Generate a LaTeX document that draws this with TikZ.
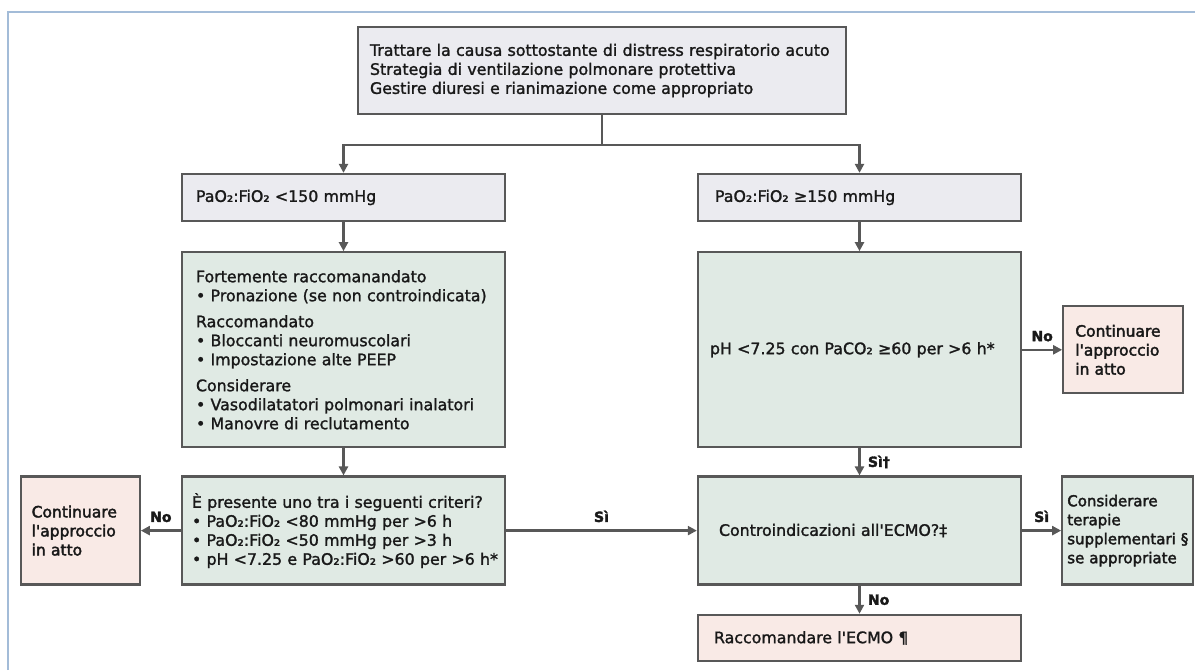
\documentclass[tikz,border=0pt]{standalone}
\usepackage{fontspec}
\setmainfont{DejaVu Sans}[Ligatures=TeXOff, FakeBold=1.5]
\newfontfamily\heavyfont{DejaVu Sans}[Ligatures=TeXOff, FakeBold=2.4]
\usetikzlibrary{arrows.meta,positioning}
\definecolor{LineGray}{RGB}{88,88,88}
\definecolor{TextGray}{RGB}{25,25,25}
\definecolor{BoxGray}{RGB}{235,235,240}
\definecolor{BoxGreen}{RGB}{224,234,228}
\definecolor{BoxPink}{RGB}{249,234,230}
\definecolor{FrameBlue}{RGB}{163,188,216}
\tikzset{
  box/.style={draw=LineGray, line width=2.3pt, inner xsep=14pt, inner ysep=4pt,
    align=left, text=TextGray, font=\fontsize{15.8}{19}\selectfont},
  graybox/.style={box, fill=BoxGray, text width=295pt, minimum height=47pt},
  greenbox/.style={box, fill=BoxGreen, text width=295pt},
  pinkbox/.style={box, fill=BoxPink, inner xsep=11pt, text width=97pt,
    minimum height=87pt, font=\heavyfont\fontsize{15.5}{19}\selectfont},
  link/.style={line width=2.3pt, LineGray},
  arrow/.style={-{Triangle[length=9pt,width=9pt]}, line width=2.3pt, LineGray},
  answer/.style={text=TextGray, font=\heavyfont\bfseries\fontsize{14}{16}\selectfont}
}
\begin{document}
\begin{tikzpicture}[x=1pt,y=1pt]
  \useasboundingbox (0,0) rectangle (1195,-670);
  \draw[FrameBlue, line width=2pt] (8,-670) -- (8,-12) -- (1195,-12);

  % first steps
  \node[graybox, line width=2.6pt, inner xsep=12pt, text width=464pt, minimum height=87pt] (start) at (602,-70.5)
    {Trattare la causa sottostante di distress respiratorio acuto\\
     Strategia di ventilazione polmonare protettiva\\
     Gestire diuresi e rianimazione come appropriato};
  \coordinate[below=30pt of start] (split);

  % low ratio branch
  \node[graybox] (lowratio) at (343.5,-197.5) {PaO₂:FiO₂ <150 mmHg};
  \node[greenbox, minimum height=195pt, below=29pt of lowratio] (lowcare)
    {Fortemente raccomanandato\\
     • Pronazione (se non controindicata)\\[7pt]
     Raccomandato\\
     • Bloccanti neuromuscolari\\
     • Impostazione alte PEEP\\[7pt]
     Considerare\\
     • Vasodilatatori polmonari inalatori\\
     • Manovre di reclutamento};
  \node[greenbox, inner xsep=10pt, text width=303pt, minimum height=108pt, below=27pt of lowcare] (criteria)
    {È presente uno tra i seguenti criteri?\\
     • PaO₂:FiO₂ <80 mmHg per >6~h\\
     • PaO₂:FiO₂ <50 mmHg per >3~h\\
     \mbox{• pH <7.25 e PaO₂:FiO₂ >60 per >6 h*}};
  \node[pinkbox, minimum height=108pt, left=40pt of criteria] (goonleft)
    {Continuare\\l'approccio\\in atto};

  % high ratio branch
  \node[graybox, inner xsep=17pt, text width=289pt] (highratio) at (859.5,-197.5) {PaO₂:FiO₂ ≥150 mmHg};
  \node[greenbox, inner xsep=12pt, text width=299pt, minimum height=195pt, below=29pt of highratio] (hypercap)
    {pH <7.25 con PaCO₂ ≥60 per >6 h*};
  \node[pinkbox, inner xsep=12pt, text width=96pt, right=40pt of hypercap] (goonright)
    {Continuare\\l'approccio\\in atto};
  \node[greenbox, inner xsep=21pt, text width=281pt, minimum height=108pt, below=27pt of hypercap] (contra)
    {Controindicazioni all'ECMO?‡};
  \node[greenbox, inner xsep=5pt, text width=121pt, minimum height=108pt, right=39pt of contra,
    font=\heavyfont\fontsize{15}{19}\selectfont] (extra)
    {Considerare\\terapie\\supplementari~§\\se appropriate};
  \node[pinkbox, inner xsep=16pt, text width=291pt, minimum height=46pt, below=28pt of contra,
    font=\fontsize{15.8}{19}\selectfont] (ecmo)
    {Raccomandare l'ECMO ¶};

  % connectors
  \draw[link] (start) -- (split);
  \draw[arrow] (split) -| (lowratio);
  \draw[arrow] (split) -| (highratio);
  \draw[arrow] (lowratio) -- (lowcare);
  \draw[arrow] (lowcare) -- (criteria);
  \draw[arrow] (criteria) -- node[answer, above=4pt] {No} (goonleft);
  \draw[arrow] (criteria) -- node[answer, above=4pt] {Sì} (contra);
  \draw[arrow] (highratio) -- (hypercap);
  \draw[arrow] (hypercap.east |- goonright) -- node[answer, above=4pt] {No} (goonright);
  \draw[arrow] (hypercap) -- node[answer, right=4pt] {Sì†} (contra);
  \draw[arrow] (contra) -- node[answer, above=4pt] {Sì} (extra);
  \draw[arrow] (contra) -- node[answer, right=4pt] {No} (ecmo);
\end{tikzpicture}
\end{document}
